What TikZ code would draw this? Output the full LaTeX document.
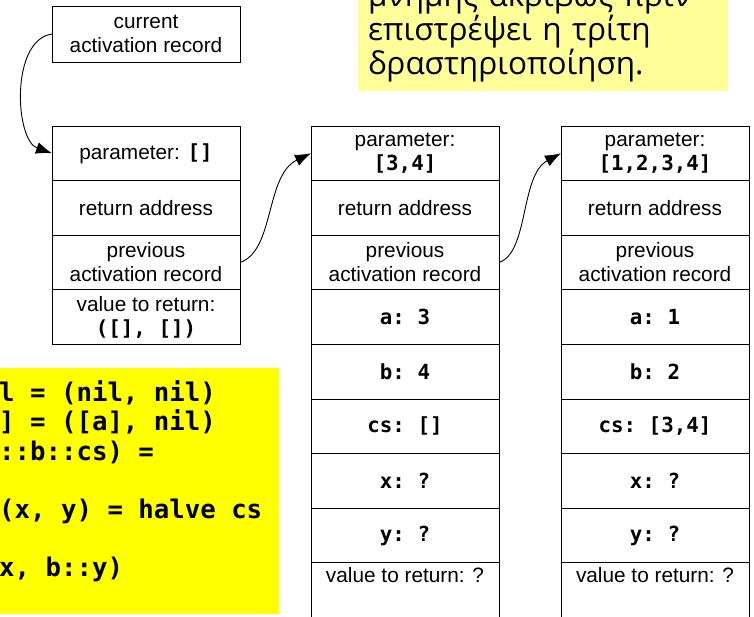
\documentclass[tikz,border=0pt]{standalone}
\usepackage{fontspec}
\setmainfont{Liberation Sans}
\setmonofont{DejaVu Sans Mono}
\newfontfamily\greekfont{Open Sans}
\usepackage{xcolor}
\usetikzlibrary{positioning}
\usetikzlibrary{arrows.meta}

\definecolor{notebg}{HTML}{FFFF99}
\definecolor{codebg}{HTML}{FFFF00}

\newcommand{\vl}[1]{{\ttfamily\bfseries #1}}

\tikzset{
  cell/.style={draw, line width=0.9pt, minimum width=188pt, minimum height=54.6pt,
    inner sep=0pt, outer sep=0pt, align=center, font=\fontsize{20.8}{24}\selectfont},
  link/.style={line width=0.9pt, -{Latex[length=16pt,width=12pt]}},
  note/.style={fill=notebg, text width=350pt, inner xsep=10pt, inner ysep=9pt,
    align=left, font=\greekfont\fontsize{31.5}{32}\selectfont},
  codetext/.style={inner sep=0pt, align=left,
    font=\ttfamily\bfseries\fontsize{25.7}{29.2}\selectfont},
}

\begin{document}
\begin{tikzpicture}[x=1pt,y=-1pt]
            \useasboundingbox (0,0) rectangle (754,616);
            \clip (0,0) rectangle (754,616);

            % Note and code
            \node[note, anchor=south west] (note) at (358,91) {μνήμης ακριβώς πριν\\επιστρέψει η τρίτη\\δραστηριοποίηση.};
            \fill[codebg] (-5,368) rectangle (279,614);
            \node[codetext, anchor=north west] (code) at (-1,380.5) {l = (nil, nil)\\] = ([a], nil)\\::b::cs) =\\\strut\\(x, y) = halve cs\\\strut\\x, b::y)};

            % Current activation record
            \node[cell, minimum height=56pt, anchor=north west] (cur) at (52,6) {current\\activation record};

            % Third activation
            \node[cell, anchor=north west] (l1) at (52,126) {parameter: \vl{[]}};
            \node[cell, below=0pt of l1] (l2) {return address};
            \node[cell, below=0pt of l2] (l3) {previous\\activation record};
            \node[cell, below=0pt of l3] (l4) {value to return:\\\vl{([], [])}};

            % Second activation
            \node[cell, anchor=north west] (m1) at (311,126) {parameter:\\\vl{[3,4]}};
            \node[cell, below=0pt of m1] (m2) {return address};
            \node[cell, below=0pt of m2] (m3) {previous\\activation record};
            \node[cell, below=0pt of m3] (m4) {\vl{a: 3}};
            \node[cell, below=0pt of m4] (m5) {\vl{b: 4}};
            \node[cell, below=0pt of m5] (m6) {\vl{cs: []}};
            \node[cell, below=0pt of m6] (m7) {\vl{x: ?}};
            \node[cell, below=0pt of m7] (m8) {\vl{y: ?}};
            \node[cell, below=0pt of m8] (m9) {value to return: ?\\\strut};

            % First activation
            \node[cell, anchor=north west] (r1) at (561,126) {parameter:\\\vl{[1,2,3,4]}};
            \node[cell, below=0pt of r1] (r2) {return address};
            \node[cell, below=0pt of r2] (r3) {previous\\activation record};
            \node[cell, below=0pt of r3] (r4) {\vl{a: 1}};
            \node[cell, below=0pt of r4] (r5) {\vl{b: 2}};
            \node[cell, below=0pt of r5] (r6) {\vl{cs: [3,4]}};
            \node[cell, below=0pt of r6] (r7) {\vl{x: ?}};
            \node[cell, below=0pt of r7] (r8) {\vl{y: ?}};
            \node[cell, below=0pt of r8] (r9) {value to return: ?\\\strut};

            % Links
            \draw[link] (cur.west) .. controls +(-42,6) and +(-37,-13) .. (l1.west);
            \draw[link] (l3.east) .. controls +(35,-12) and +(-46,22) .. (m1.west);
            \draw[link] (m3.east) .. controls +(30,-10) and +(-41,22) .. (r1.west);
        \end{tikzpicture}
\end{document}
